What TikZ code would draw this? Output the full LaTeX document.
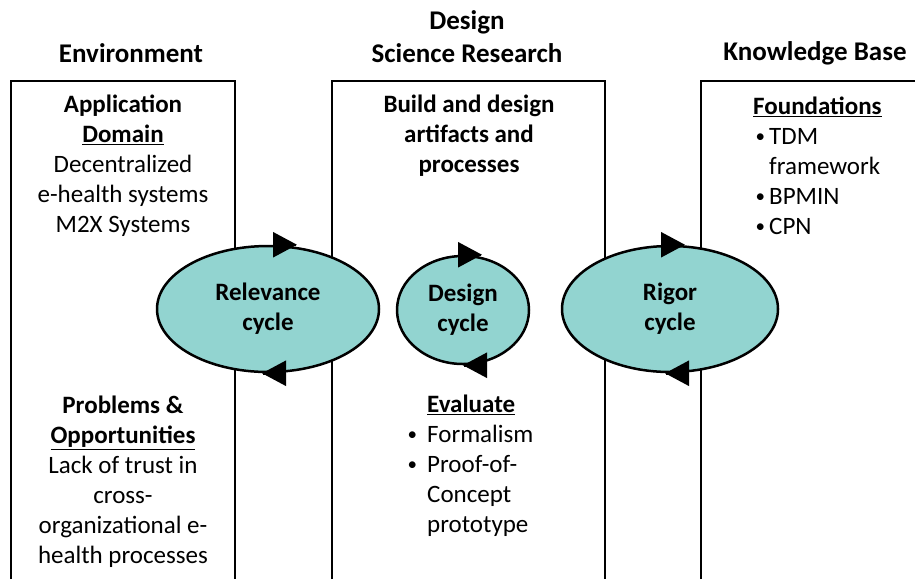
\documentclass[tikz,border=0pt]{standalone}
\usepackage{fontspec}
\setmainfont{Carlito}
\usetikzlibrary{arrows.meta,shapes.geometric}
\definecolor{cyclefill}{RGB}{146,212,208}
\newcommand{\smbullet}{\raisebox{2pt}{\fontsize{19}{19}\selectfont\textbullet}}
\newcommand{\kbitem}{\hspace*{16pt}\llap{\smbullet\hspace{4pt}}}
\newcommand{\evitem}{\llap{\smbullet\hspace{10pt}}}

\begin{document}
\begin{tikzpicture}[x=1pt,y=-1pt,
  frame/.style={line width=2pt},
  head/.style={font=\fontsize{27}{33}\selectfont\bfseries,align=center},
  txt/.style={font=\fontsize{25}{30}\selectfont,inner sep=0pt},
  cyc/.style={ellipse,draw,line width=2.5pt,fill=cyclefill,inner sep=0pt,font=\fontsize{25}{30}\selectfont\bfseries,align=center},
  cyc tip/.style={-{Triangle[length=24pt,width=25pt]},line width=2.5pt}]
\useasboundingbox (0,0) rectangle (915,579);
\draw[frame] (11,579) -- (11,81) -- (235,81) -- (235,579);
\draw[frame] (332,579) -- (332,81) -- (605,81) -- (605,579);
\draw[frame] (701,579) -- (701,81) -- (915,81);
\node[head] (env) at (131,53) {Environment};
\node[head] (dsr) at (467,37) {Design\\Science Research};
\node[head] (kb) at (815,53) {Knowledge Base};
\node[txt,align=center] (appdom) at (123,166) {\textbf{Application}\\\textbf{\underline{Domain}}\\Decentralized\\e-health systems\\M2X Systems};
\node[txt,align=center] (probs) at (123,482) {\textbf{Problems \&}\\\textbf{\underline{Opportunities}}\\Lack of trust in\\cross-\\organizational e-\\health processes};
\node[txt,align=center] (build) at (469,136) {\bfseries Build and design\\\bfseries artifacts and\\\bfseries processes};
\node[txt,align=left,anchor=west] (eval) at (427,466) {\textbf{\underline{Evaluate}}\\\evitem Formalism\\\evitem Proof-of-\\Concept\\prototype};
\node[txt,align=left,anchor=west] (found) at (753,166) {\textbf{\underline{Foundations}}\\\kbitem TDM\\\hspace*{16pt}framework\\\kbitem BPMIN\\\kbitem CPN};
\node[cyc,minimum width=222pt,minimum height=126pt] (rel) at (268,309) {Relevance\\cycle};
\node[cyc,minimum width=132pt,minimum height=108pt] (des) at (463,310) {Design\\cycle};
\node[cyc,minimum width=216pt,minimum height=126pt] (rig) at (670,309) {Rigor\\cycle};
\foreach \n/\t/\b in {rel/29/-6,des/19/0,rig/15/-5} {
  \draw[cyc tip] ([xshift=\t pt-1pt]\n.north) -- ([xshift=\t pt]\n.north);
  \draw[cyc tip] ([xshift=\b pt+1pt]\n.south) -- ([xshift=\b pt]\n.south);
}
\end{tikzpicture}
\end{document}
